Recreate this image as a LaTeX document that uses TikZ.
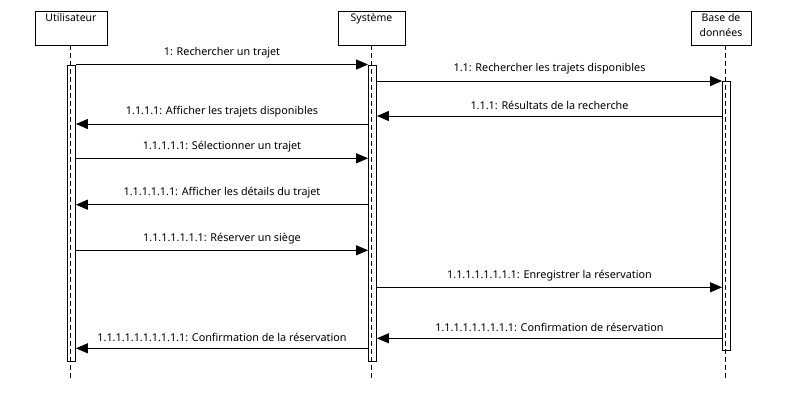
\documentclass[tikz,border=0pt]{standalone}
\usepackage{fontspec}
\setmainfont{Noto Sans}
\usetikzlibrary{arrows.meta}
\begin{document}
\begin{tikzpicture}[x=1pt,y=-1pt,
  actor/.style={draw,line width=1pt,minimum width=#1,minimum height=34pt,anchor=north,inner sep=0pt},
  atext/.style={font=\fontsize{10.5}{15}\selectfont,anchor=north,inner sep=0pt,align=center},
  life/.style={line width=0.8pt,dash pattern=on 5pt off 3pt},
  actbar/.style={draw,line width=0.8pt,inner sep=0pt,anchor=north,minimum width=8pt},
  msg/.style={line width=1pt,-{Triangle[length=12pt,width=10pt]}},
  lbl/.style={font=\fontsize{10.8}{12}\selectfont,inner sep=0pt,above=6pt}]
\useasboundingbox (0,0) rectangle (787,410);
% actors
\node[actor=72pt] (u) at (71,11) {};
\node[atext] (ut) at (71,13) {Utilisateur};
\node[actor=67pt] (s) at (371.5,11) {};
\node[atext] (st) at (371.5,13) {Système};
\node[actor=60pt] (b) at (721,11) {};
\node[atext] (bt) at (721,13) {Base de\\données};
% lifelines
\coordinate (ue) at (70.5,380);
\coordinate (se) at (371.5,380);
\coordinate (be) at (725.5,380);
\coordinate (us) at (70.5,45);
\coordinate (ss) at (371.5,45);
\coordinate (bs) at (725.5,45);
\draw[life] (us) -- (ue);
\draw[life] (ss) -- (se);
\draw[life] (bs) -- (be);
% activation bars
\node[actbar,minimum height=296pt] (ua) at (71.5,64.5) {};
\node[actbar,minimum height=296pt] (sa) at (372.5,64.5) {};
\node[actbar,minimum height=269pt] (ba) at (726.5,81) {};
% messages
\coordinate (m1a) at (ua.east |- 0,64.5);  \coordinate (m1b) at (sa.west |- 0,64.5);
\draw[msg] (m1a) -- node[lbl] {1: Rechercher un trajet} (m1b);
\coordinate (m2a) at (sa.east |- 0,81);  \coordinate (m2b) at (ba.west |- 0,81);
\draw[msg] (m2a) -- node[lbl] {1.1: Rechercher les trajets disponibles} (m2b);
\coordinate (m3a) at (ba.west |- 0,116);  \coordinate (m3b) at (sa.east |- 0,116);
\draw[msg] (m3a) -- node[lbl] {1.1.1: Résultats de la recherche} (m3b);
\coordinate (m4a) at (sa.west |- 0,124);  \coordinate (m4b) at (ua.east |- 0,124);
\draw[msg] (m4a) -- node[lbl] {1.1.1.1: Afficher les trajets disponibles} (m4b);
\coordinate (m5a) at (ua.east |- 0,158.3);  \coordinate (m5b) at (sa.west |- 0,158.3);
\draw[msg] (m5a) -- node[lbl] {1.1.1.1.1: Sélectionner un trajet} (m5b);
\coordinate (m6a) at (sa.west |- 0,204.7);  \coordinate (m6b) at (ua.east |- 0,204.7);
\draw[msg] (m6a) -- node[lbl] {1.1.1.1.1.1: Afficher les détails du trajet} (m6b);
\coordinate (m7a) at (ua.east |- 0,250.3);  \coordinate (m7b) at (sa.west |- 0,250.3);
\draw[msg] (m7a) -- node[lbl] {1.1.1.1.1.1.1: Réserver un siège} (m7b);
\coordinate (m8a) at (sa.east |- 0,287.3);  \coordinate (m8b) at (ba.west |- 0,287.3);
\draw[msg] (m8a) -- node[lbl] {1.1.1.1.1.1.1.1: Enregistrer la réservation} (m8b);
\coordinate (m9a) at (ba.west |- 0,338.3);  \coordinate (m9b) at (sa.east |- 0,338.3);
\draw[msg] (m9a) -- node[lbl] {1.1.1.1.1.1.1.1.1: Confirmation de réservation} (m9b);
\coordinate (m10a) at (sa.west |- 0,348.3);  \coordinate (m10b) at (ua.east |- 0,348.3);
\draw[msg] (m10a) -- node[lbl] {1.1.1.1.1.1.1.1.1.1: Confirmation de la réservation} (m10b);
\end{tikzpicture}
\end{document}
